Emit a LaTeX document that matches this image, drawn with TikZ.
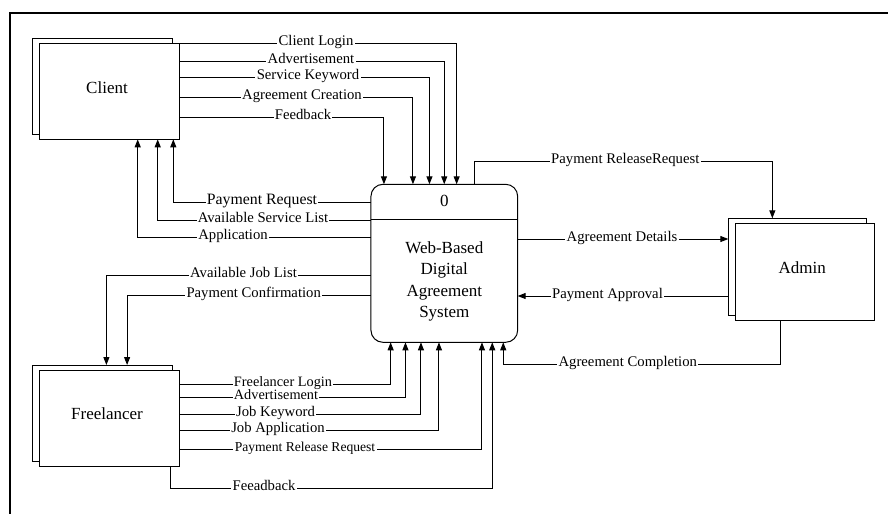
\documentclass[tikz,border=0pt]{standalone}
\usepackage{fontspec}
\setmainfont{Liberation Serif}
\usetikzlibrary{arrows.meta,calc}
\begin{document}
\begin{tikzpicture}[x=1pt,y=-1pt,
  ent/.style={draw=black, line width=1pt, fill=white, inner sep=0pt, outer sep=0pt, minimum width=139.6pt, minimum height=96pt},
  procbox/.style={draw=black, line width=1pt, fill=white, rounded corners=12pt, inner sep=0pt, outer sep=0pt, minimum width=146.7pt, minimum height=158pt},
  flow/.style={line width=1pt, -{Triangle[length=8pt,width=6pt]}},
  lbl/.style={fill=white, inner xsep=1.3pt, inner ysep=0pt, font=\fontsize{14.7}{16}\selectfont, text height=0.66em, text depth=0.22em},
  lbltight/.style={lbl, font=\fontsize{14.3}{15}\selectfont, text height=0.62em, text depth=0.2em},
  lblsmall/.style={lbl, font=\fontsize{13.6}{15}\selectfont},
  lblbig/.style={lbl, font=\fontsize{15.8}{17}\selectfont},
  big/.style={font=\fontsize{17}{21.3}\selectfont, align=center, inner sep=0pt}
]
\useasboundingbox (0,0) rectangle (888,514);
% frame
\draw[line width=1.3pt] (888,13) -- (10,13) -- (10,514);

% entities
\node[ent] (clientback) at (102.5,86.3) {};
\node[ent] (client) at (109.5,91.3) {};
\node[big] (clienttxt) at (107,87.5) {Client};

\node[ent] (freeback) at (102.5,413) {};
\node[ent] (free) at (109.5,418) {};
\node[big] (freetxt) at (107,413.8) {Freelancer};

\node[ent, minimum width=138.3pt, minimum height=96.7pt] (adminback) at (797.5,266.65) {};
\node[ent, minimum width=138.3pt, minimum height=96.7pt] (admin) at (804.85,271.65) {};
\node[big] (admintxt) at (802.3,267.8) {Admin};

% process
\node[procbox] (proc) at (444.3,263.3) {};
\draw[line width=1pt] ($(proc.north west)+(0,35)$) -- ($(proc.north east)+(0,35)$);
\node[big] (procnum) at (444.3,201) {0};
\node[big] (proctxt) at (444.3,281.5) {Web-Based\\Digital\\Agreement\\System};

% client -> process
\draw[flow] (client.north east) -| ($(proc.north west)+(85.7,0)$);
\draw[flow] ($(client.north east)+(0,18.4)$) -| ($(proc.north west)+(73.3,0)$);
\draw[flow] ($(client.north east)+(0,34.4)$) -| ($(proc.north west)+(58.5,0)$);
\draw[flow] ($(client.north east)+(0,54.4)$) -| ($(proc.north west)+(42,0)$);
\draw[flow] ($(client.north east)+(0,74.4)$) -| ($(proc.north west)+(13,0)$);

% process -> client
\draw[flow] ($(proc.north west)+(0,18)$) -| ($(client.south west)+(133.6,0)$);
\draw[flow] ($(proc.north west)+(0,35.7)$) -| ($(client.south west)+(118,0)$);
\draw[flow] ($(proc.north west)+(0,53.4)$) -| ($(client.south west)+(98,0)$);

% process -> freelancer
\draw[flow] ($(proc.north west)+(0,90.7)$) -| ($(freeback.north west)+(73.7,0)$);
\draw[flow] ($(proc.north west)+(0,111.4)$) -| ($(freeback.north west)+(94.4,0)$);

% freelancer -> process
\draw[flow] ($(free.north east)+(0,14.3)$) -| ($(proc.south west)+(19.7,0)$);
\draw[flow] ($(free.north east)+(0,27)$) -| ($(proc.south west)+(34.5,0)$);
\draw[flow] ($(free.north east)+(0,44.7)$) -| ($(proc.south west)+(50,0)$);
\draw[flow] ($(free.north east)+(0,60)$) -| ($(proc.south west)+(68,0)$);
\draw[flow] ($(free.north east)+(0,79)$) -| ($(proc.south west)+(111,0)$);
\draw[flow] ($(free.south west)+(131,0)$) -- ++(0,22.7) -| ($(proc.south west)+(121.3,0)$);

% admin
\draw[flow] ($(proc.north west)+(104,0)$) -- ++(0,-22.6) -| ($(adminback.north west)+(44,0)$);
\draw[flow] ($(proc.north east)+(0,54.7)$) -- ($(adminback.north west)+(0,20.7)$);
\draw[flow] ($(adminback.north west)+(0,77.7)$) -- ($(proc.north east)+(0,111.7)$);
\draw[flow] ($(admin.south west)+(45,0)$) -- ++(0,44) -| ($(proc.south west)+(132.3,0)$);

% labels
\node[lbl] (l1) at (316,43.3) {Client Login};
\node[lbl] (l2) at (311,61.7) {Advertisement};
\node[lbl] (l3) at (308,77.7) {Service Keyword};
\node[lbl] (l4) at (302,97.7) {Agreement Creation};
\node[lbl] (l5) at (303,117.7) {Feedback};
\node[lblbig] (l6) at (262,202.3) {Payment Request};
\node[lbl] (l7) at (263,220) {Available Service List};
\node[lbl] (l8) at (233,237.7) {Application};
\node[lbl] (l9) at (243.5,275) {Available Job List};
\node[lbl] (l10) at (253.7,295.7) {Payment Confirmation};
\node[lbltight] (l11) at (283,384) {Freelancer Login};
\node[lbltight] (l12) at (276,397.3) {Advertisement};
\node[lbl] (l13) at (275.5,414.7) {Job Keyword};
\node[lbl] (l14) at (278,430) {Job Application};
\node[lblsmall] (l15) at (305,449) {Payment Release Request};
\node[lbl] (l16) at (264,488.7) {Feeadback};
\node[lbl] (l17) at (625.3,161.7) {Payment ReleaseRequest};
\node[lbl] (l18) at (622,239) {Agreement Details};
\node[lbl] (l19) at (607.5,296) {Payment Approval};
\node[lbl] (l20) at (627.8,364) {Agreement Completion};
\end{tikzpicture}
\end{document}
